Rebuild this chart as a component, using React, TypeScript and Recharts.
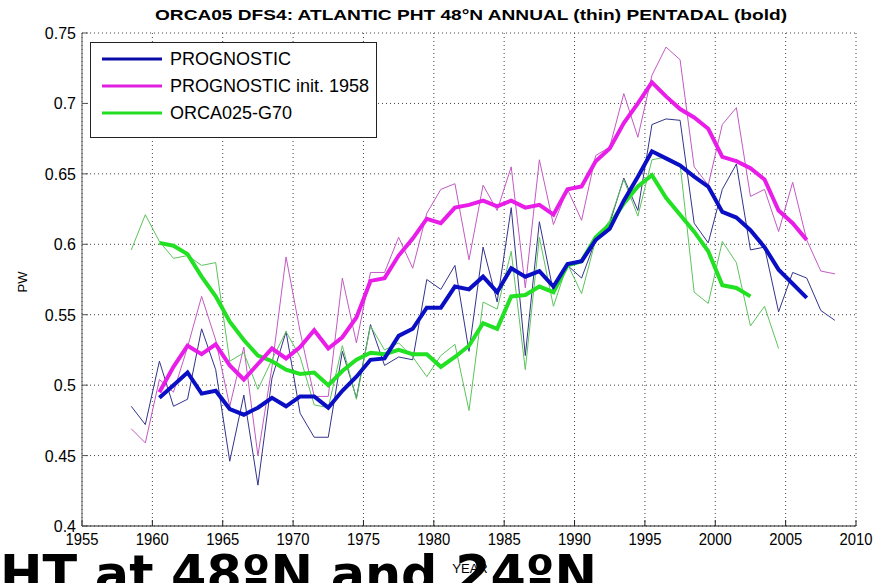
import React from 'react';
import { LineChart, Line, XAxis, YAxis, CartesianGrid } from 'recharts';

const YEARS = [
  1958.5, 1959.5, 1960.5, 1961.5, 1962.5, 1963.5, 1964.5, 1965.5, 1966.5, 1967.5,
  1968.5, 1969.5, 1970.5, 1971.5, 1972.5, 1973.5, 1974.5, 1975.5, 1976.5, 1977.5,
  1978.5, 1979.5, 1980.5, 1981.5, 1982.5, 1983.5, 1984.5, 1985.5, 1986.5, 1987.5,
  1988.5, 1989.5, 1990.5, 1991.5, 1992.5, 1993.5, 1994.5, 1995.5, 1996.5, 1997.5,
  1998.5, 1999.5, 2000.5, 2001.5, 2002.5, 2003.5, 2004.5, 2005.5, 2006.5, 2007.5,
  2008.5,
];

// annual (thin) series, starting 1958.5
const PROG_ANNUAL = [
  0.485, 0.472, 0.517, 0.485, 0.490, 0.540, 0.511, 0.446, 0.493, 0.429,
  0.505, 0.538, 0.480, 0.463, 0.463, 0.524, 0.491, 0.543, 0.514, 0.520,
  0.518, 0.575, 0.568, 0.585, 0.524, 0.598, 0.559, 0.626, 0.521, 0.616,
  0.566, 0.585, 0.576, 0.603, 0.615, 0.647, 0.624, 0.685, 0.689, 0.688,
  0.615, 0.601, 0.639, 0.657, 0.596, 0.598, 0.552, 0.580, 0.576, 0.553,
  0.546,
];
const INIT1958_ANNUAL = [
  0.469, 0.459, 0.504, 0.495, 0.527, 0.563, 0.532, 0.485, 0.527, 0.450,
  0.513, 0.591, 0.538, 0.492, 0.492, 0.576, 0.530, 0.580, 0.580, 0.605,
  0.583, 0.622, 0.639, 0.643, 0.589, 0.642, 0.624, 0.655, 0.569, 0.660,
  0.614, 0.639, 0.617, 0.663, 0.669, 0.707, 0.676, 0.720, 0.740, 0.731,
  0.655, 0.642, 0.685, 0.697, 0.634, 0.639, 0.609, 0.644, 0.603, 0.581,
  0.579,
];
const G70_ANNUAL = [
  0.596, 0.621, 0.602, 0.590, 0.592, 0.585, 0.587, 0.517, 0.523, 0.497,
  0.518, 0.538, 0.520, 0.486, 0.484, 0.528, 0.490, 0.542, 0.525, 0.530,
  0.520, 0.506, 0.521, 0.529, 0.482, 0.559, 0.554, 0.595, 0.511, 0.605,
  0.556, 0.586, 0.565, 0.603, 0.617, 0.646, 0.620, 0.660, 0.662, 0.657,
  0.566, 0.558, 0.602, 0.587, 0.542, 0.556, 0.526,
];

// pentadal (bold) series, starting 1960.5
const PENTADAL_OFFSET = 2;
const PROG_PENTADAL = [
  0.491, 0.500, 0.509, 0.494, 0.496, 0.483, 0.479, 0.484, 0.491, 0.485,
  0.492, 0.492, 0.484, 0.496, 0.506, 0.518, 0.519, 0.535, 0.540, 0.555,
  0.555, 0.570, 0.568, 0.577, 0.566, 0.583, 0.577, 0.581, 0.570, 0.586,
  0.588, 0.603, 0.611, 0.631, 0.648, 0.666, 0.661, 0.656, 0.648, 0.641,
  0.623, 0.619, 0.610, 0.598, 0.582, 0.572, 0.562,
];
const INIT1958_PENTADAL = [
  0.495, 0.513, 0.528, 0.522, 0.529, 0.514, 0.504, 0.515, 0.526, 0.519,
  0.527, 0.539, 0.526, 0.534, 0.548, 0.574, 0.576, 0.592, 0.604, 0.618,
  0.615, 0.626, 0.628, 0.631, 0.627, 0.631, 0.626, 0.628, 0.621, 0.639,
  0.641, 0.659, 0.668, 0.686, 0.700, 0.715, 0.705, 0.696, 0.690, 0.682,
  0.662, 0.659, 0.654, 0.646, 0.624, 0.615, 0.603,
];
const G70_PENTADAL = [
  0.601, 0.599, 0.593, 0.577, 0.563, 0.545, 0.532, 0.521, 0.517, 0.511,
  0.508, 0.509, 0.500, 0.510, 0.518, 0.523, 0.522, 0.525, 0.522, 0.522,
  0.513, 0.520, 0.528, 0.544, 0.540, 0.563, 0.564, 0.570, 0.566, 0.585,
  0.588, 0.605, 0.614, 0.629, 0.641, 0.649, 0.633, 0.621, 0.609, 0.595,
  0.571, 0.569, 0.563,
];

const X_TICKS = [1955, 1960, 1965, 1970, 1975, 1980, 1985, 1990, 1995, 2000, 2005, 2010];
const Y_TICKS = [0.4, 0.45, 0.5, 0.55, 0.6, 0.65, 0.7, 0.75];

const SERIES_NAMES = ['PROGNOSTIC', 'PROGNOSTIC init. 1958', 'ORCA025-G70'];
const TITLE = 'ORCA05 DFS4: ATLANTIC PHT 48\u00b0N ANNUAL (thin) PENTADAL (bold)';
const OVERLAY_TEXT = 'HT at 48\u00baN and 24\u00baN';

const BOLD_COLORS = ['#0a0fc4', '#e81ee8', '#22e022'];
const THIN_COLORS = ['#33338c', '#c35ac3', '#5cc45c'];
const LEGEND_COLORS = ['#0a0aa8', '#e020e0', '#22dd22'];

const rows = YEARS.map((year, i) => ({
  year,
  progA: PROG_ANNUAL[i] ?? null,
  initA: INIT1958_ANNUAL[i] ?? null,
  g70A: G70_ANNUAL[i] ?? null,
  progP: PROG_PENTADAL[i - PENTADAL_OFFSET] ?? null,
  initP: INIT1958_PENTADAL[i - PENTADAL_OFFSET] ?? null,
  g70P: G70_PENTADAL[i - PENTADAL_OFFSET] ?? null,
}));

const FONT = '"Liberation Sans", Arial, sans-serif';

const XTick = (props: any) => {
  const { x, y, payload } = props;
  return (
    <text x={x} y={y} dy={12} textAnchor="middle" fontFamily={FONT} fontSize={16} fill="#000"
      textLength={33} lengthAdjust="spacingAndGlyphs">
      {payload.value}
    </text>
  );
};

const YTick = (props: any) => {
  const { x, y, payload } = props;
  return (
    <text x={x} y={y} dy={6} textAnchor="end" fontFamily={FONT} fontSize={16} fill="#000">
      {String(payload.value)}
    </text>
  );
};

export default function App() {
  const W = 890;
  const H = 583;
  return (
    <div style={{ position: 'absolute', left: 0, top: 0, width: W, height: H, background: '#fff', overflow: 'hidden' }}>
      <LineChart width={W} height={H} data={rows} margin={{ top: 33, right: 34, left: 0, bottom: 0 }}>
        <CartesianGrid stroke="#444" strokeDasharray="1 3" strokeWidth={1} xAxisId="b" yAxisId="l" />
        <XAxis xAxisId="b" dataKey="year" type="number" domain={[1955, 2010]} ticks={X_TICKS}
          height={57} tickSize={-6} tickMargin={13} tick={<XTick />} stroke="#222"
          allowDataOverflow interval={0} />
        <XAxis xAxisId="t" dataKey="year" type="number" domain={[1955, 2010]} ticks={X_TICKS}
          orientation="top" height={0} tickSize={-6} tick={false} stroke="#222" allowDataOverflow interval={0} />
        <YAxis yAxisId="l" type="number" domain={[0.4, 0.75]} ticks={Y_TICKS} width={82}
          tickSize={-6} tickMargin={12} tick={<YTick />} stroke="#555" allowDataOverflow interval={0} />
        <YAxis yAxisId="r" type="number" domain={[0.4, 0.75]} ticks={Y_TICKS} width={0}
          orientation="right" tickSize={-6} tick={false} stroke="#222" allowDataOverflow interval={0} />
        <Line xAxisId="b" yAxisId="l" dataKey="progA" stroke={THIN_COLORS[0]} strokeWidth={1} dot={false} isAnimationActive={false} />
        <Line xAxisId="b" yAxisId="l" dataKey="initA" stroke={THIN_COLORS[1]} strokeWidth={1} dot={false} isAnimationActive={false} />
        <Line xAxisId="b" yAxisId="l" dataKey="g70A" stroke={THIN_COLORS[2]} strokeWidth={1} dot={false} isAnimationActive={false} />
        <Line xAxisId="b" yAxisId="l" dataKey="g70P" stroke={BOLD_COLORS[2]} strokeWidth={4} dot={false} isAnimationActive={false} />
        <Line xAxisId="b" yAxisId="l" dataKey="initP" stroke={BOLD_COLORS[1]} strokeWidth={4} dot={false} isAnimationActive={false} />
        <Line xAxisId="b" yAxisId="l" dataKey="progP" stroke={BOLD_COLORS[0]} strokeWidth={4} dot={false} isAnimationActive={false} />
      </LineChart>
      <svg width={W} height={H} style={{ position: 'absolute', left: 0, top: 0, pointerEvents: 'none' }}>
        <text x={155} y={20} fontFamily={FONT} fontWeight="bold" fontSize={15} fill="#000"
          textLength={632} lengthAdjust="spacingAndGlyphs">{TITLE}</text>
        <g>
          <rect x={90.5} y={42.5} width={286} height={95} fill="#fff" stroke="#222" strokeWidth={1} />
          {SERIES_NAMES.map((name, i) => (
            <g key={name}>
              <line x1={102} x2={162} y1={59 + i * 27} y2={59 + i * 27} stroke={LEGEND_COLORS[i]} strokeWidth={3} />
              <text x={170} y={65 + i * 27} fontFamily={FONT} fontSize={18} fill="#000">{name}</text>
            </g>
          ))}
        </g>
        <text x={23} y={282} fontFamily={FONT} fontSize={13} fill="#000" textAnchor="middle"
          transform="rotate(-90 23 282)" dy={4}>PW</text>
        <text x={470} y={573} fontFamily={FONT} fontSize={13} fill="#000" textAnchor="middle">YEAR</text>
        <text x={0} y={592} fontFamily='"DejaVu Sans", sans-serif' fontWeight="bold" fontSize={52} fill="#000"
          textLength={597} lengthAdjust="spacingAndGlyphs">{OVERLAY_TEXT}</text>
      </svg>
    </div>
  );
}
